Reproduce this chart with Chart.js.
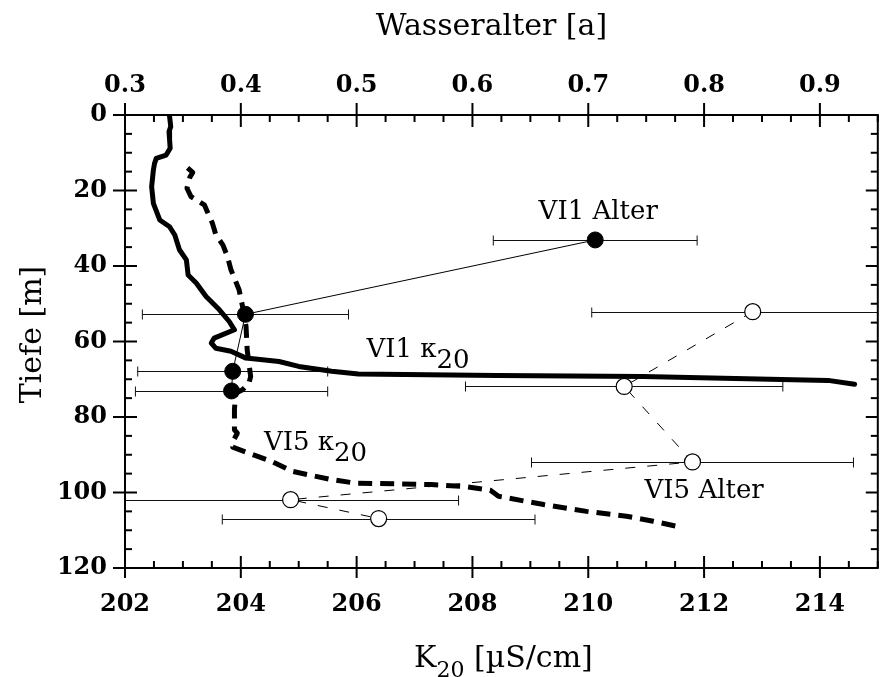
<!DOCTYPE html>
<html>
<head>
<meta charset="utf-8">
<script src="https://cdn.jsdelivr.net/npm/chart.js@4.4.1/dist/chart.umd.min.js"></script>
<style>
html, body { margin: 0; padding: 0; background: #fff; }
#wrap { width: 887px; height: 677px; }
</style>
</head>
<body>
<div id="wrap"><canvas id="chart" width="887" height="677"></canvas></div>
<script>
// conductivity profiles, K20 [uS/cm] against depth [m]
const vi1K = [202.77, 202.79, 202.76, 202.77, 202.78, 202.71, 202.54, 202.51, 202.49, 202.46, 202.49, 202.60,
  202.77, 202.86, 202.94, 203.06, 203.09, 203.23, 203.40, 203.63, 203.80, 203.89, 203.54, 203.49, 203.57,
  203.83, 204.09, 204.66, 205.00, 205.57, 206.03, 208.43, 210.94, 214.14, 214.60];
const vi1Depth = [0.4, 3.1, 4.4, 6.6, 8.8, 10.6, 11.5, 12.8, 14.6, 19.0, 23.4, 27.8,
  29.6, 31.8, 35.7, 38.4, 42.4, 44.5, 48.1, 51.6, 54.7, 56.9, 59.1, 60.4, 61.8,
  62.6, 64.4, 65.3, 66.6, 67.9, 68.6, 69.0, 69.3, 70.3, 71.3];

const vi5K = [203.08, 203.17, 203.12, 203.07, 203.14, 203.37, 203.51, 203.57, 203.69, 203.77, 203.83, 203.97,
  204.03, 204.09, 204.11, 204.17, 204.14, 204.03, 203.91, 203.89, 203.89, 203.94, 203.88, 203.86, 204.09,
  204.54, 204.89, 205.57, 205.97, 207.29, 207.86, 208.31, 208.45, 209.23, 209.97, 210.66, 211.12, 211.60];
const vi5Depth = [14.0, 15.2, 16.5, 19.4, 21.6, 23.8, 28.7, 31.8, 34.4, 37.5, 41.0, 46.3,
  50.7, 56.0, 62.2, 69.3, 71.0, 72.8, 73.7, 78.0, 83.4, 84.3, 86.0, 88.0, 89.3,
  91.8, 94.4, 96.6, 97.5, 97.9, 98.4, 99.4, 101.0, 103.2, 105.0, 106.3, 107.6, 109.2];

// water age samples [a] with error
const vi1Age = [0.706, 0.404, 0.393, 0.392];
const vi1AgeErr = [0.088, 0.089, 0.082, 0.083];
const vi1AgeDepth = [33.1, 52.8, 67.9, 73.1];

const vi5Age = [0.842, 0.731, 0.790, 0.443, 0.519];
const vi5AgeErr = [0.139, 0.137, 0.139, 0.145, 0.135];
const vi5AgeDepth = [52.1, 71.9, 91.9, 101.9, 106.9];

// tick labels
const kTicks = [202, 204, 206, 208, 210, 212, 214];
const ageTicks = [0.3, 0.4, 0.5, 0.6, 0.7, 0.8, 0.9];
const depthTicks = [0, 20, 40, 60, 80, 100, 120];

const FONT = "'DejaVu Serif', 'Liberation Serif', serif";

function pts(xs, ys) {
  return xs.map((v, i) => ({ x: v, y: ys[i] }));
}

// text placed in data units: axis 'x' = K20, 'x2' = age
const notes = [
  { text: 'VI1 Alter', sub: '', axis: 'x2', x: 0.7086, y: 27.6, align: 'center' },
  { text: 'VI1 \u03ba', sub: '20', axis: 'x', x: 206.17, y: 64.0, align: 'left' },
  { text: 'VI5 \u03ba', sub: '20', axis: 'x', x: 204.40, y: 88.7, align: 'left' },
  { text: 'VI5 Alter', sub: '', axis: 'x2', x: 0.7486, y: 101.5, align: 'left' },
];

function subText(ctx, x, y, main, sub, rest, size, subSize, drop, align) {
  ctx.font = size + 'px ' + FONT;
  const w1 = ctx.measureText(main).width;
  const w3 = ctx.measureText(rest).width;
  ctx.font = subSize + 'px ' + FONT;
  const w2 = ctx.measureText(sub).width;
  let x0 = x;
  if (align === 'center') x0 = x - (w1 + w2 + w3) / 2;
  ctx.textAlign = 'left';
  ctx.textBaseline = 'alphabetic';
  ctx.font = size + 'px ' + FONT;
  ctx.fillText(main, x0, y);
  if (sub) {
    ctx.font = subSize + 'px ' + FONT;
    ctx.fillText(sub, x0 + w1, y + drop);
  }
  if (rest) {
    ctx.font = size + 'px ' + FONT;
    ctx.fillText(rest, x0 + w1 + w2, y);
  }
}

const frame = {
  id: 'frame',
  beforeDatasetsDraw(chart) {
    // horizontal error bars of the age samples
    const { ctx, chartArea: a } = chart;
    const x2 = chart.scales.x2, y = chart.scales.y;
    ctx.save();
    ctx.beginPath();
    ctx.rect(a.left, a.top, a.right - a.left, a.bottom - a.top);
    ctx.clip();
    ctx.strokeStyle = '#111';
    ctx.lineWidth = 1;
    const bars = (ages, errs, depths) => {
      ages.forEach((v, i) => {
        const py = Math.round(y.getPixelForValue(depths[i])) + 0.5;
        const l = x2.getPixelForValue(v - errs[i]);
        const r = x2.getPixelForValue(v + errs[i]);
        ctx.beginPath();
        ctx.moveTo(l, py); ctx.lineTo(r, py);
        ctx.moveTo(l, py - 5); ctx.lineTo(l, py + 5);
        ctx.moveTo(r, py - 5); ctx.lineTo(r, py + 5);
        ctx.stroke();
      });
    };
    bars(vi1Age, vi1AgeErr, vi1AgeDepth);
    bars(vi5Age, vi5AgeErr, vi5AgeDepth);
    ctx.restore();
  },
  afterDatasetsDraw(chart) {
    const { ctx, chartArea: a } = chart;
    const x = chart.scales.x, x2 = chart.scales.x2, y = chart.scales.y;
    ctx.save();
    ctx.strokeStyle = '#000';
    ctx.lineWidth = 2;
    ctx.strokeRect(a.left, a.top, a.right - a.left, a.bottom - a.top);

    const line = (x1, y1, xx, yy) => { ctx.beginPath(); ctx.moveTo(x1, y1); ctx.lineTo(xx, yy); ctx.stroke(); };
    // bottom axis
    for (let v = 202; v <= 215.001; v += 0.5) {
      const p = x.getPixelForValue(v);
      if (kTicks.includes(Math.round(v * 10) / 10)) line(p, a.bottom + 10, p, a.bottom - 12);
      else line(p, a.bottom, p, a.bottom - 7);
    }
    // top axis
    for (let i = 0; i <= 26; i++) {
      const v = 0.3 + i * 0.025;
      const p = x2.getPixelForValue(v);
      if (i % 4 === 0) line(p, a.top - 12, p, a.top + 12);
      else line(p, a.top, p, a.top + 7);
    }
    // left and right axes
    for (let v = 0; v <= 120; v += 5) {
      const p = y.getPixelForValue(v);
      if (v % 20 === 0) {
        line(a.left - 12, p, a.left + 12, p);
        line(a.right, p, a.right - 12, p);
      } else {
        line(a.left, p, a.left + 7, p);
        line(a.right, p, a.right - 7, p);
      }
    }

    ctx.fillStyle = '#000';
    // in-plot labels
    notes.forEach(n => {
      const px = chart.scales[n.axis].getPixelForValue(n.x);
      const py = y.getPixelForValue(n.y);
      subText(ctx, px, py, n.text, n.sub, '', 26, 26, 11, n.align);
    });

    // axis titles
    const cx = (a.left + a.right) / 2;
    subText(ctx, cx - 10, 35, 'Wasseralter [a]', '', '', 30, 30, 0, 'center');
    subText(ctx, cx + 2, 667, 'K', '20', ' [\u00b5S/cm]', 30, 22, 10, 'center');
    ctx.save();
    ctx.translate(41, (a.top + a.bottom) / 2 - 7);
    ctx.rotate(-Math.PI / 2);
    subText(ctx, 0, 0, 'Tiefe [m]', '', '', 30, 30, 0, 'center');
    ctx.restore();
    ctx.restore();
  }
};

function fixedTicks(list) {
  return scale => { scale.ticks = list.map(v => ({ value: v })); };
}

const tickFont = { family: FONT, size: 24, weight: 'bold' };

new Chart(document.getElementById('chart'), {
  type: 'scatter',
  data: {
    datasets: [
      {
        label: 'VI1 K20',
        data: pts(vi1K, vi1Depth),
        xAxisID: 'x', yAxisID: 'y',
        showLine: true, borderColor: '#000', borderWidth: 5,
        pointRadius: 0, borderJoinStyle: 'round', borderCapStyle: 'round'
      },
      {
        label: 'VI5 K20',
        data: pts(vi5K, vi5Depth),
        xAxisID: 'x', yAxisID: 'y',
        showLine: true, borderColor: '#000', borderWidth: 5, borderDash: [14, 8],
        pointRadius: 0, borderJoinStyle: 'round'
      },
      {
        label: 'VI1 Alter',
        data: pts(vi1Age, vi1AgeDepth),
        xAxisID: 'x2', yAxisID: 'y',
        showLine: true, borderColor: '#000', borderWidth: 1,
        pointRadius: 8, pointBackgroundColor: '#000', pointBorderColor: '#000', pointBorderWidth: 1
      },
      {
        label: 'VI5 Alter',
        data: pts(vi5Age, vi5AgeDepth),
        xAxisID: 'x2', yAxisID: 'y',
        showLine: true, borderColor: '#000', borderWidth: 1, borderDash: [10, 12],
        pointRadius: 8, pointBackgroundColor: '#fff', pointBorderColor: '#000', pointBorderWidth: 1.2
      }
    ]
  },
  options: {
    responsive: false,
    animation: false,
    devicePixelRatio: 1,
    layout: { padding: { left: 0, right: 2, top: 0, bottom: 0 } },
    plugins: { legend: { display: false }, tooltip: { enabled: false } },
    scales: {
      x: {
        type: 'linear', position: 'bottom', min: 202, max: 215,
        afterBuildTicks: fixedTicks(kTicks),
        afterFit: s => { s.height = 109; },
        grid: { display: false, drawTicks: false }, border: { display: false },
        ticks: { color: '#000', font: tickFont, padding: 22, maxRotation: 0, callback: v => String(v) }
      },
      x2: {
        type: 'linear', position: 'top', min: 0.3, max: 0.95,
        afterBuildTicks: fixedTicks(ageTicks),
        afterFit: s => { s.height = 115; },
        grid: { display: false, drawTicks: false }, border: { display: false },
        ticks: { color: '#000', font: tickFont, padding: 15, maxRotation: 0, callback: v => v.toFixed(1) }
      },
      y: {
        type: 'linear', position: 'left', min: 0, max: 120, reverse: true,
        afterBuildTicks: fixedTicks(depthTicks),
        afterFit: s => { s.width = 125; },
        grid: { display: false, drawTicks: false }, border: { display: false },
        ticks: { color: '#000', font: tickFont, padding: 18, callback: v => String(v) }
      }
    }
  },
  plugins: [frame]
});
</script>
</body>
</html>
